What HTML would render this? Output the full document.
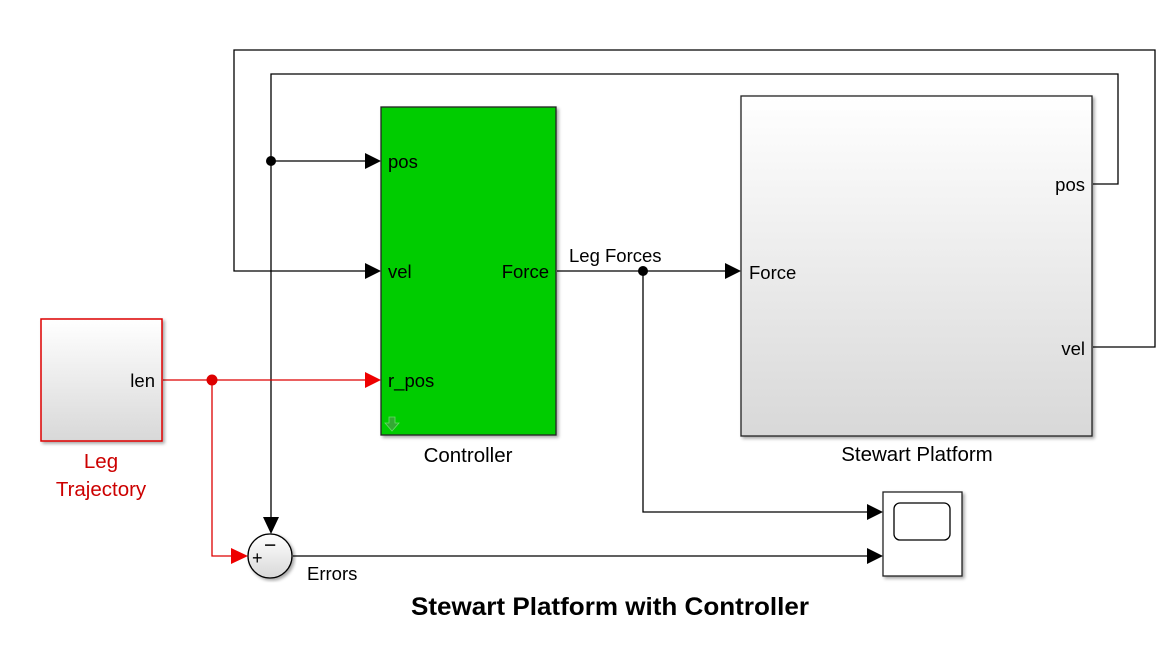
<!DOCTYPE html>
<html><head><style>body{margin:0;background:#fff}svg{display:block;font-family:"Liberation Sans",Arial,sans-serif}</style></head>
<body>
<svg width="1174" height="645" viewBox="0 0 1174 645">
<defs>
<linearGradient id="g" x1="0" y1="0" x2="0" y2="1"><stop offset="0" stop-color="#fff"/><stop offset="1" stop-color="#d8d8d8"/></linearGradient>
<filter id="sh"><feDropShadow dx="2" dy="2" stdDeviation="1.5" flood-color="#000" flood-opacity="0.35"/></filter>
</defs>
<g fill="none" stroke="#000" stroke-width="1.3">
<polyline points="1093,347 1155,347 1155,50 234,50 234,271 368,271"/>
<polyline points="1093,184 1118,184 1118,74 271,74 271,521"/>
<line x1="271" y1="161" x2="368" y2="161"/>
<line x1="557" y1="271" x2="728" y2="271"/>
<polyline points="643,271 643,512 870,512"/>
<line x1="293" y1="556" x2="870" y2="556"/>
</g>
<g fill="none" stroke="#d00" stroke-width="1.3">
<line x1="163" y1="380" x2="368" y2="380"/>
<polyline points="212,380 212,556 234,556"/>
</g>
<circle cx="271" cy="161" r="5"/>
<circle cx="643" cy="271" r="5"/>
<circle cx="212" cy="380" r="5.5" fill="#d00"/>
<g fill="#000">
<polygon points="365,153 381,161 365,169"/>
<polygon points="365,263 381,271 365,279"/>
<polygon points="725,263 741,271 725,279"/>
<polygon points="867,504 883,512 867,520"/>
<polygon points="867,548 883,556 867,564"/>
<polygon points="263,517 279,517 271,534"/>
</g>
<g fill="#e00">
<polygon points="365,372 381,380 365,388"/>
<polygon points="231,548 248,556 231,564"/>
</g>
<rect x="381" y="107" width="175" height="328" fill="#00cc00" stroke="#222" stroke-width="1.3" filter="url(#sh)"/>
<path d="M389 417h6v6h4l-7 8-7-8h4z" fill="#3a3" stroke="#6d6" stroke-width="0.8"/>
<rect x="741" y="96" width="351" height="340" fill="url(#g)" stroke="#222" stroke-width="1.3" filter="url(#sh)"/>
<rect x="41" y="319" width="121" height="122" fill="url(#g)" stroke="#d00" stroke-width="1.5" filter="url(#sh)"/>
<circle cx="270" cy="556" r="22" fill="url(#g)" stroke="#000" stroke-width="1.3" filter="url(#sh)"/>
<rect x="883" y="492" width="79" height="84" fill="#fff" stroke="#222" stroke-width="1.3" filter="url(#sh)"/>
<rect x="894" y="503" width="56" height="37" rx="6" fill="#fff" stroke="#000" stroke-width="1.3"/>
<g font-size="18.5" fill="#000">
<text x="388" y="168">pos</text>
<text x="388" y="278">vel</text>
<text x="388" y="387">r_pos</text>
<text x="549" y="278" text-anchor="end">Force</text>
<text x="468" y="462" text-anchor="middle" font-size="20.5">Controller</text>
<text x="569" y="262">Leg Forces</text>
<text x="749" y="279">Force</text>
<text x="1085" y="191" text-anchor="end">pos</text>
<text x="1085" y="355" text-anchor="end">vel</text>
<text x="917" y="461" text-anchor="middle" font-size="20.5">Stewart Platform</text>
<text x="155" y="387" text-anchor="end">len</text>
<text x="101" y="468" text-anchor="middle" font-size="20.5" fill="#c00">Leg</text>
<text x="101" y="496" text-anchor="middle" font-size="20.5" fill="#c00">Trajectory</text>
<text x="307" y="580">Errors</text>
<text x="252" y="564" font-size="18">+</text>
<text x="264" y="552" font-size="21">−</text>
<text x="610" y="615" text-anchor="middle" font-size="25" font-weight="bold" textLength="398" lengthAdjust="spacingAndGlyphs">Stewart Platform with Controller</text>
</g>
</svg>
</body></html>
